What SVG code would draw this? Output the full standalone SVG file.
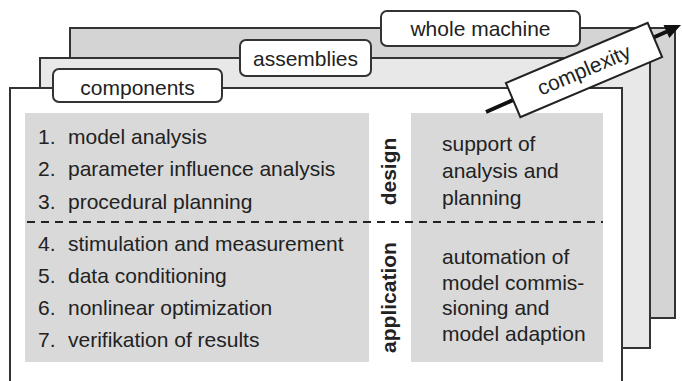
<svg xmlns="http://www.w3.org/2000/svg" width="682" height="381" viewBox="0 0 682 381">
<style>
.sheet{stroke:#333;stroke-width:2}
.tab{fill:#fff;stroke:#333;stroke-width:2}
.t{font-family:"Liberation Sans",Arial,sans-serif;font-size:21px;fill:#222}
.c{text-anchor:middle}
.b{font-weight:bold}
.box{fill:#d9d9d9}
</style>
<rect width="682" height="381" fill="#fff"/>
<g id="whole-machine">
<rect class="sheet" x="70" y="28" width="605" height="290" fill="#d4d4d4"/>
<rect class="tab" x="381" y="11" width="199" height="35" rx="6"/>
<text class="t c" x="480.5" y="36">whole machine</text>
</g>
<g id="assemblies">
<rect class="sheet" x="40" y="58" width="610" height="290" fill="#e8e8e8"/>
<rect class="tab" x="240" y="40" width="131" height="36" rx="6"/>
<text class="t c" x="305.5" y="66">assemblies</text>
</g>
<g id="components">
<rect class="sheet" x="10" y="88" width="612" height="320" fill="#fff"/>
<rect class="tab" x="53" y="69" width="169" height="33" rx="6"/>
<text class="t c" x="137.5" y="95">components</text>
</g>
<g id="steps">
<rect class="box" x="25" y="113" width="344" height="249"/>
<text class="t" x="38" y="144">1.</text><text class="t" x="68" y="144">model analysis</text>
<text class="t" x="38" y="176">2.</text><text class="t" x="68" y="176">parameter influence analysis</text>
<text class="t" x="38" y="209">3.</text><text class="t" x="68" y="209">procedural planning</text>
<text class="t" x="38" y="251">4.</text><text class="t" x="68" y="251">stimulation and measurement</text>
<text class="t" x="38" y="283">5.</text><text class="t" x="68" y="283">data conditioning</text>
<text class="t" x="38" y="315">6.</text><text class="t" x="68" y="315">nonlinear optimization</text>
<text class="t" x="38" y="347">7.</text><text class="t" x="68" y="347">verifikation of results</text>
</g>
<g id="phase-labels">
<text class="t c b" transform="translate(396,171.5) rotate(-90)">design</text>
<text class="t c b" transform="translate(396,297.5) rotate(-90)">application</text>
</g>
<g id="goals">
<rect class="box" x="411" y="113" width="192" height="249"/>
<text class="t" x="442" y="151">support of</text>
<text class="t" x="442" y="178">analysis and</text>
<text class="t" x="442" y="205">planning</text>
<text class="t" x="442" y="264">automation of</text>
<text class="t" x="442" y="290">model commis-</text>
<text class="t" x="442" y="315">sioning and</text>
<text class="t" x="442" y="341">model adaption</text>
</g>
<g id="connectors">
<line x1="27" y1="222" x2="603" y2="222" stroke="#222" stroke-width="2" stroke-dasharray="8,6"/>
<line x1="486" y1="112" x2="667" y2="31.5" stroke="#111" stroke-width="4"/>
<polygon points="681,25 669.3,37.9 663.5,25.1" fill="#111"/>
</g>
<g id="complexity">
<g transform="translate(584,70) rotate(-23)">
<rect x="-77" y="-18.5" width="154" height="37" fill="#fff" stroke="#222" stroke-width="2"/>
<text class="t c" x="0" y="7">complexity</text>
</g>
</g>
</svg>
